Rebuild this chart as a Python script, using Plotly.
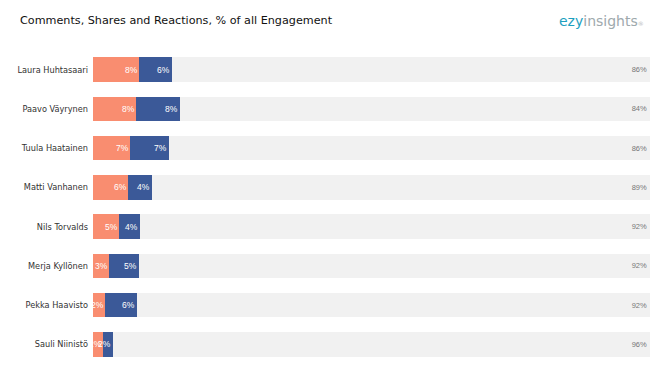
import plotly.graph_objects as go

names = ["Laura Huhtasaari", "Paavo Väyrynen", "Tuula Haatainen", "Matti Vanhanen",
         "Nils Torvalds", "Merja Kyllönen", "Pekka Haavisto", "Sauli Niinistö"]
comments = [8.3, 7.7, 6.6, 6.3, 4.6, 2.9, 2.2, 1.8]
shares = [5.9, 7.9, 7.0, 4.3, 3.9, 5.4, 5.7, 1.8]
reactions = [85.8, 84.4, 86.4, 89.4, 91.5, 91.7, 92.1, 96.4]

font = "DejaVu Sans"
bfont = "Liberation Sans"


def pct(v):
    return f"{int(v + 0.5)}%"


fig = go.Figure()
fig.add_trace(go.Bar(y=names, x=comments, name="Comments", orientation="h",
                     marker=dict(color="#F98D70", line=dict(width=0))))
fig.add_trace(go.Bar(y=names, x=shares, name="Shares", orientation="h",
                     marker=dict(color="#3B5998", line=dict(width=0))))
fig.add_trace(go.Bar(y=names, x=reactions, name="Reactions", orientation="h",
                     marker=dict(color="#F1F1F1", line=dict(width=0)),
                     texttemplate="%{x:.0f}%", textposition="inside", insidetextanchor="end",
                     textangle=0, constraintext="none",
                     textfont=dict(color="#777777", size=7.5, family=bfont)))

annotations = [
    dict(text="Comments, Shares and Reactions, % of all Engagement", xref="paper", yref="paper",
         x=-75/557, y=1, xanchor="left", yanchor="bottom", yshift=21, showarrow=False,
         font=dict(size=11.2, color="#111111", family=font)),
    dict(text="<span style='color:#1E9FBF'>ezy</span><span style='color:#9EA9AD'>insights</span><span style='color:#bbbbbb;font-size:6px'>®</span>",
         xref="paper", yref="paper", x=1, y=1, xanchor="right", yanchor="bottom", yshift=19, xshift=-4,
         showarrow=False, font=dict(size=14, family=font)),
]
# value labels at the inner end of each coloured segment
for n, c, s in zip(names, comments, shares):
    annotations.append(dict(x=c, y=n, xref="x", yref="y", text=pct(c), showarrow=False,
                            xanchor="right", xshift=0, borderpad=0,
                            font=dict(color="white", size=8.5, family=bfont)))
    annotations.append(dict(x=c + s, y=n, xref="x", yref="y", text=pct(s), showarrow=False,
                            xanchor="right", xshift=-1, borderpad=0,
                            font=dict(color="white", size=8.5, family=bfont)))

# the page body adds an 8px offset, compensated in margins
fig.update_layout(
    barmode="stack", bargap=0.38, showlegend=False,
    width=659, height=372,
    margin=dict(l=85, r=17, t=42, b=16, autoexpand=False),
    plot_bgcolor="white", paper_bgcolor="white",
    font=dict(family=font, size=8.2, color="#333333"),
    xaxis=dict(range=[0, 100], visible=False),
    yaxis=dict(autorange="reversed", showgrid=False, ticks="", ticklabelstandoff=4,
               tickfont=dict(size=8.2, color="#333333", family=font)),
    annotations=annotations,
)
fig.write_html("out.html")
